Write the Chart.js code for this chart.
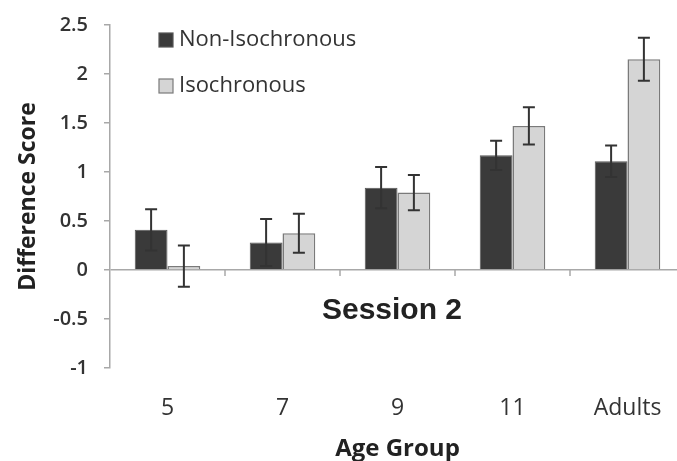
<!DOCTYPE html>
<html>
<head>
<meta charset="utf-8">
<script src="https://cdn.jsdelivr.net/npm/chart.js@4.4.1/dist/chart.umd.min.js"></script>
<style>
  html, body { margin: 0; padding: 0; background: #fff; overflow: hidden; }
  #wrap { width: 685px; height: 461px; }
</style>
</head>
<body>
<div id="wrap"><canvas id="diffChart"></canvas></div>
<script>
// data
const ageGroups = ['5', '7', '9', '11', 'Adults'];
const nonIso = [0.41, 0.28, 0.84, 1.17, 1.11];
const nonIsoErr = [0.21, 0.24, 0.21, 0.15, 0.16];
const iso = [0.04, 0.375, 0.79, 1.47, 2.15];
const isoErr = [0.21, 0.2, 0.18, 0.19, 0.22];
const yTicks = [-1, -0.5, 0, 0.5, 1, 1.5, 2, 2.5];
const panelLabel = 'Session 2';

const textFont = "'Open Sans', sans-serif";
const axisGray = '#a8a8a8';

// error bars + little category ticks under the zero line
const errorBars = {
    id: 'errorBars',
    afterDatasetsDraw(chart) {
        const ctx = chart.ctx;
        const y = chart.scales.y;
        const x = chart.scales.x;
        ctx.save();
        ctx.strokeStyle = '#333';
        ctx.lineWidth = 2;
        chart.data.datasets.forEach((ds, di) => {
            const meta = chart.getDatasetMeta(di);
            meta.data.forEach((bar, i) => {
                const v = ds.data[i], e = ds.errors[i];
                const top = y.getPixelForValue(v + e);
                const bot = y.getPixelForValue(v - e);
                ctx.beginPath();
                ctx.moveTo(bar.x, top); ctx.lineTo(bar.x, bot);
                ctx.moveTo(bar.x - 6, top); ctx.lineTo(bar.x + 6, top);
                ctx.moveTo(bar.x - 6, bot); ctx.lineTo(bar.x + 6, bot);
                ctx.stroke();
            });
        });
        // category separators below the zero line
        const y0 = y.getPixelForValue(0);
        ctx.strokeStyle = axisGray;
        ctx.lineWidth = 1.5;
        for (let i = 1; i < ageGroups.length; i++) {
            const px = (x.getPixelForValue(i - 1) + x.getPixelForValue(i)) / 2;
            ctx.beginPath();
            ctx.moveTo(px, y0); ctx.lineTo(px, y0 + 6);
            ctx.stroke();
        }
        ctx.restore();
    }
};

// legend inside the plot + panel label
const insideText = {
    id: 'insideText',
    afterDraw(chart) {
        const ctx = chart.ctx;
        ctx.save();
        ctx.font = "22px " + textFont;
        ctx.textBaseline = 'middle';
        chart.data.datasets.forEach((ds, i) => {
            const ly = 40 + i * 46;
            ctx.fillStyle = ds.backgroundColor;
            ctx.fillRect(159, ly - 7, 14, 14);
            ctx.strokeStyle = ds.borderColor;
            ctx.lineWidth = 1.2;
            ctx.strokeRect(159, ly - 7, 14, 14);
            ctx.fillStyle = '#333';
            ctx.fillText(ds.label, 179, ly);
        });
        ctx.font = "bold 30px 'Liberation Sans', Arial, sans-serif";
        ctx.textAlign = 'center';
        ctx.fillStyle = '#222';
        ctx.fillText(panelLabel, 392, 311);
        ctx.restore();
    }
};

const ctx = document.getElementById('diffChart').getContext('2d');
const diffChart = new Chart(ctx, {
    type: 'bar',
    data: {
        labels: ageGroups,
        datasets: [{
            label: 'Non-Isochronous',
            data: nonIso,
            errors: nonIsoErr,
            backgroundColor: '#3a3a3a',
            borderColor: '#555',
            borderWidth: 1,
            categoryPercentage: 0.57,
            barPercentage: 1
        }, {
            label: 'Isochronous',
            data: iso,
            errors: isoErr,
            backgroundColor: '#d5d5d5',
            borderColor: '#7a7a7a',
            borderWidth: 1.5,
            categoryPercentage: 0.57,
            barPercentage: 1
        }]
    },
    options: {
        responsive: true,
        maintainAspectRatio: false,
        animation: false,
        layout: { padding: { top: 23, right: 0, left: 0, bottom: 0 } },
        plugins: {
            legend: { display: false },
            tooltip: { enabled: false }
        },
        scales: {
            x: {
                grid: { display: false },
                border: { display: false },
                ticks: {
                    color: '#333',
                    font: { family: textFont, size: 23 },
                    padding: 19
                },
                title: {
                    display: true,
                    text: 'Age Group',
                    color: '#222',
                    font: { family: textFont, size: 24, weight: 'bold' },
                    padding: { top: 0, bottom: -3 }
                },
                afterFit(scale) { scale.height = 93; }
            },
            y: {
                min: -1,
                max: 2.5,
                afterBuildTicks(scale) { scale.ticks = yTicks.map(v => ({ value: v })); },
                grid: {
                    color: c => (c.tick && c.tick.value === 0) ? axisGray : 'transparent',
                    lineWidth: 1.5,
                    tickColor: axisGray,
                    tickLength: 6,
                    drawTicks: true
                },
                border: { display: true, color: axisGray, width: 1.5 },
                ticks: {
                    color: '#333',
                    font: { family: textFont, size: 20, weight: '600', lineHeight: 0.9 },
                    padding: 16,
                    callback: v => String(v)
                },
                title: {
                    display: true,
                    text: 'Difference Score',
                    color: '#222',
                    font: { family: textFont, size: 23, weight: 'bold' },
                    padding: { top: 15, bottom: 0 }
                },
                afterFit(scale) { scale.width = 110; }
            }
        }
    },
    plugins: [errorBars, insideText]
});
</script>
</body>
</html>
